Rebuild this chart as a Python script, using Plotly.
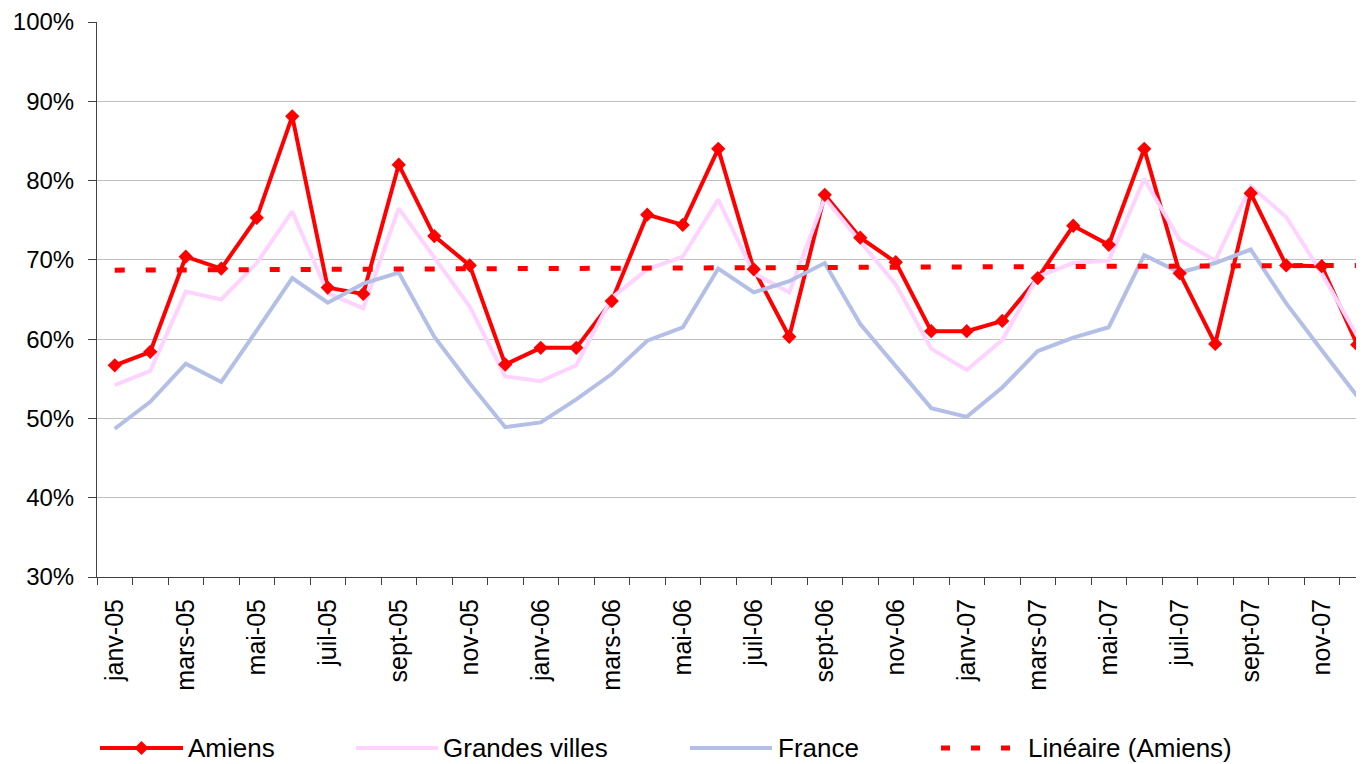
import plotly.graph_objects as go

# ---- data ----
months = ["janv-05", "févr-05", "mars-05", "avr-05", "mai-05", "juin-05",
          "juil-05", "août-05", "sept-05", "oct-05", "nov-05", "déc-05",
          "janv-06", "févr-06", "mars-06", "avr-06", "mai-06", "juin-06",
          "juil-06", "août-06", "sept-06", "oct-06", "nov-06", "déc-06",
          "janv-07", "févr-07", "mars-07", "avr-07", "mai-07", "juin-07",
          "juil-07", "août-07", "sept-07", "oct-07", "nov-07", "déc-07"]

amiens = [56.7, 58.4, 70.4, 68.9, 75.3, 88.1, 66.5, 65.7, 82.0, 73.0, 69.3, 56.8,
          58.9, 58.9, 64.8, 75.7, 74.4, 84.0, 68.8, 60.3, 78.2, 72.8, 69.7, 61.0,
          61.0, 62.3, 67.7, 74.3, 71.9, 84.0, 68.3, 59.4, 78.4, 69.3, 69.2, 59.3]

grandes_villes = [54.2, 56.0, 66.0, 65.0, 69.6, 76.1, 65.8, 63.9, 76.5, 70.2, 64.1, 55.3,
                  54.7, 56.7, 65.2, 68.8, 70.4, 77.6, 68.3, 65.9, 77.8, 72.3, 66.9, 58.8,
                  56.1, 59.9, 67.9, 69.6, 69.9, 80.2, 72.5, 69.9, 79.3, 75.4, 68.3, 60.4]

france = [48.7, 52.1, 56.9, 54.6, 61.1, 67.7, 64.6, 67.0, 68.4, 60.3, 54.4, 48.9,
          49.5, 52.4, 55.6, 59.8, 61.5, 68.9, 65.9, 67.3, 69.6, 61.9, 56.6, 51.3,
          50.2, 53.9, 58.5, 60.2, 61.5, 70.6, 68.4, 69.6, 71.3, 64.5, 58.6, 52.8]

# linear trend of Amiens (values at first and last month)
trend_amiens = [68.7, 69.3]

series_names = ["Amiens", "Grandes villes", "France", "Linéaire (Amiens)"]
y_ticks = [30, 40, 50, 60, 70, 80, 90, 100]

# ---- styles ----
RED = "#FF0000"
PINK = "#FFD3FF"
BLUE = "#B3BFE6"
FONT = "Liberation Sans, Arial, sans-serif"
AXIS = "#404040"

idx = list(range(len(months)))
label_idx = idx[::2]

fig = go.Figure()
fig.add_trace(go.Scatter(x=idx, y=amiens, mode="lines", name=series_names[0],
                         line=dict(color=RED, width=4), showlegend=False))
fig.add_trace(go.Scatter(x=idx, y=grandes_villes, mode="lines", name=series_names[1],
                         line=dict(color=PINK, width=4), showlegend=False))
fig.add_trace(go.Scatter(x=idx, y=france, mode="lines", name=series_names[2],
                         line=dict(color=BLUE, width=4), showlegend=False))
fig.add_trace(go.Scatter(x=idx, y=amiens, mode="markers", name=series_names[0],
                         marker=dict(symbol="diamond", size=11, color=RED),
                         cliponaxis=False, showlegend=False))
fig.add_trace(go.Scatter(x=[idx[0], idx[-1]], y=trend_amiens, mode="lines",
                         name=series_names[3],
                         line=dict(color=RED, width=5, dash="10px,21px"),
                         showlegend=False))

# page offset of the figure (body margin) and geometry in page pixels
OFF = 8
PAGE_W, PAGE_H = 1364, 764
W, H = PAGE_W - OFF, PAGE_H - OFF
L, T, R, B = 97 - OFF, 22 - OFF, W, 577 - OFF


def px(xp_page):
    return (xp_page - OFF - L) / (R - L)


def py(yp_page):
    return (B - (yp_page - OFF)) / (B - T)


# ---- custom legend (line samples as shapes, labels as annotations) ----
leg_y = 748
legend_items = [
    # name, color, dash, x0, x1, text x   (page pixels)
    (series_names[0], RED, "solid", 100, 183, 186),
    (series_names[1], PINK, "solid", 356, 438, 441),
    (series_names[2], BLUE, "solid", 690, 772, 776),
    (series_names[3], RED, "9px,21px", 941, 1012, 1026),
]
shapes = []
annotations = []
for name, color, dash, x0, x1, tx in legend_items:
    shapes.append(dict(type="line", xref="paper", yref="paper",
                       x0=px(x0), x1=px(x1), y0=py(leg_y), y1=py(leg_y),
                       line=dict(color=color, width=5 if dash != "solid" else 4,
                                 dash=dash)))
    annotations.append(dict(text=name, xref="paper", yref="paper",
                            x=px(tx), y=py(leg_y), xanchor="left", yanchor="middle",
                            showarrow=False,
                            font=dict(family=FONT, size=26, color="#000")))
# diamond marker on the Amiens legend sample
shapes.append(dict(type="path", xref="paper", yref="paper",
                   xsizemode="pixel", ysizemode="pixel",
                   xanchor=px(141.5), yanchor=py(leg_y),
                   path="M0,-7 L7,0 L0,7 L-7,0 Z",
                   fillcolor=RED, line=dict(color=RED, width=0)))

fig.update_layout(
    width=W, height=H,
    margin=dict(l=L, r=W - R, t=T, b=H - B, pad=0),
    paper_bgcolor="white", plot_bgcolor="white",
    font=dict(family=FONT, size=24, color="#000"),
    showlegend=False,
    shapes=shapes,
    annotations=annotations,
)

px_per_cat = 35.5
x_end = -0.5 + (R - L) / px_per_cat
fig.update_xaxes(
    range=[-0.5, x_end],
    tickmode="array", tickvals=label_idx, ticktext=[months[i] for i in label_idx],
    tickangle=-90, ticks="", ticklabelstandoff=11,
    tickfont=dict(family=FONT, size=25, color="#000"),
    showgrid=False, zeroline=False,
    showline=True, linecolor=AXIS, linewidth=1,
    minor=dict(tickmode="linear", tick0=-0.5, dtick=1, ticks="outside",
               ticklen=7, tickcolor=AXIS, tickwidth=1, showgrid=False),
)
fig.update_yaxes(
    range=[30, 100], tickmode="array", tickvals=y_ticks,
    ticktext=[f"{v}%" for v in y_ticks],
    ticks="outside", ticklen=8, tickcolor=AXIS, tickwidth=1,
    ticklabelstandoff=9,
    tickfont=dict(family=FONT, size=24, color="#000"),
    showgrid=True, gridcolor="#C0C0C0", gridwidth=1,
    zeroline=False, showline=True, linecolor=AXIS, linewidth=1,
)

fig.write_html("out.html")
